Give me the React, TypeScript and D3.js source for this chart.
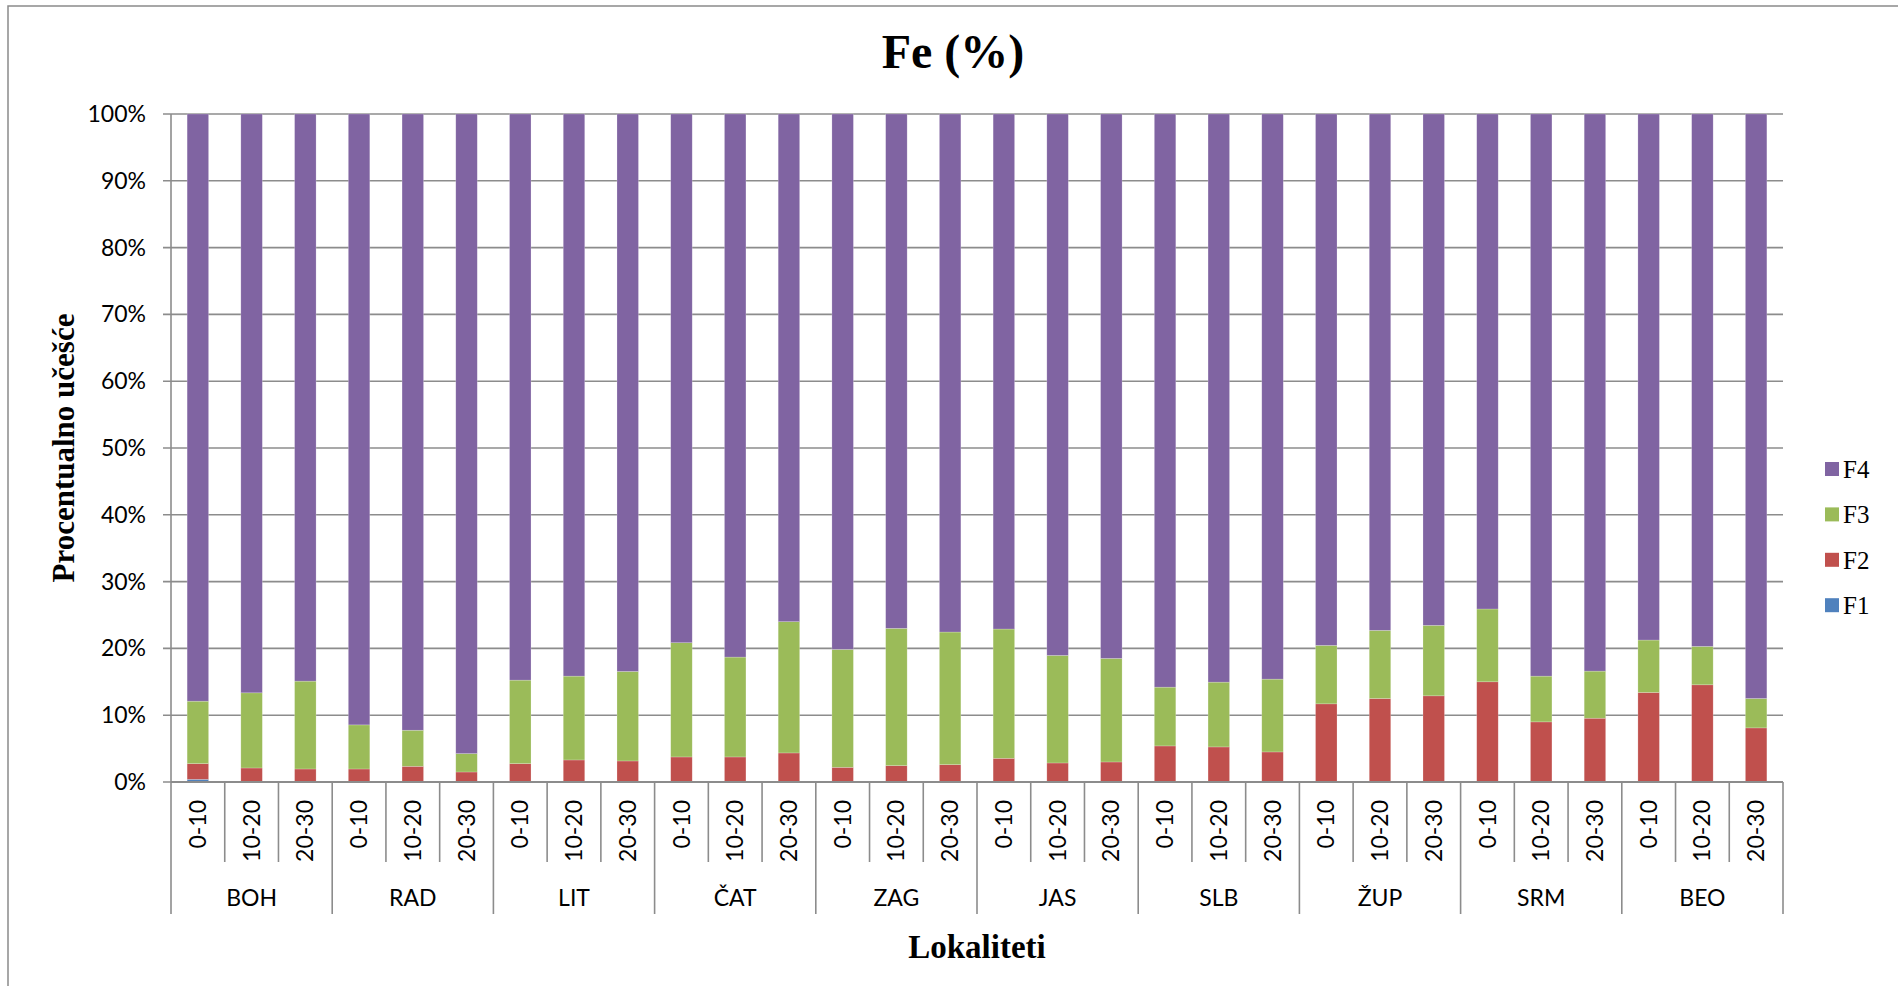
import React, { useEffect } from 'react';
import * as d3 from 'd3';

const locations = ['BOH', 'RAD', 'LIT', 'ČAT', 'ZAG', 'JAS', 'SLB', 'ŽUP', 'SRM', 'BEO'];
const depths = ['0-10', '10-20', '20-30'];
const seriesNames = ['F1', 'F2', 'F3', 'F4'];
const seriesColors = ['#4F81BD', '#C0504D', '#9BBB59', '#8064A2'];
const yTicks = [0, 10, 20, 30, 40, 50, 60, 70, 80, 90, 100];

const F1 = [0.4, 0, 0, 0, 0, 0, 0, 0, 0, 0, 0, 0, 0, 0, 0, 0, 0, 0, 0, 0, 0, 0, 0, 0, 0, 0, 0, 0, 0, 0];
const F2 = [2.35, 2.1, 1.95, 1.95, 2.35, 1.5, 2.75, 3.3, 3.15, 3.75, 3.75, 4.35, 2.2, 2.45, 2.6, 3.55, 2.85, 3.0, 5.4, 5.25, 4.5, 11.7, 12.5, 12.9, 15.0, 9.0, 9.55, 13.4, 14.55, 8.1];
const F3 = [9.35, 11.25, 13.15, 6.6, 5.4, 2.75, 12.5, 12.55, 13.4, 17.1, 14.95, 19.65, 17.65, 20.55, 19.85, 19.35, 16.1, 15.5, 8.8, 9.7, 10.9, 8.75, 10.2, 10.55, 10.9, 6.85, 7.05, 7.85, 5.75, 4.4];
const F4 = [87.9, 86.65, 84.9, 91.45, 92.25, 95.75, 84.75, 84.15, 83.45, 79.15, 81.3, 76.0, 80.15, 77.0, 77.55, 77.1, 81.05, 81.5, 85.8, 85.05, 84.6, 79.55, 77.3, 76.55, 74.1, 84.15, 83.4, 78.75, 79.7, 87.5];

const W = 1898;
const H = 986;
const left = 171;
const right = 1783;
const top = 114;
const bottom = 782;

export default function App() {
  useEffect(() => {
    document.body.style.margin = '0';
    document.body.style.overflow = 'hidden';
  }, []);

  const rows = locations.flatMap((loc, li) =>
    depths.map((dep, di) => {
      const i = li * 3 + di;
      return { key: `${loc}|${dep}`, loc, dep, F1: F1[i], F2: F2[i], F3: F3[i], F4: F4[i] };
    })
  );

  const x = d3.scaleBand<string>()
    .domain(rows.map(r => r.key))
    .range([left, right])
    .paddingInner(0.6)
    .paddingOuter(0.3);
  const step = x.step();
  const y = d3.scaleLinear().domain([0, 100]).range([bottom, top]);

  const stack = d3.stack<any>().keys(seriesNames);
  const layers = stack(rows);

  const grid = '#8c8c8c';
  const sans = 'Lato, "Open Sans", sans-serif';
  const serif = '"Liberation Serif", "Times New Roman", serif';

  const slotLeft = (i: number) => (x(rows[i].key) as number) - step * 0.3;

  return (
    <svg width={W} height={H} style={{ position: 'absolute', left: 0, top: 0, background: '#fff' }}>
      <rect x={8} y={6} width={W + 20} height={H + 20} fill="#fff" stroke="#8a8a8a" strokeWidth={1.5} />
      <text x={953} y={68} textAnchor="middle" fontFamily={serif} fontWeight="bold" fontSize={48} fill="#000">Fe (%)</text>

      {yTicks.map(t => (
        <g key={t}>
          <line x1={left - 8} x2={right} y1={y(t)} y2={y(t)} stroke={grid} strokeWidth={1.6} />
          <text x={146} y={y(t)} dy="0.35em" textAnchor="end" fontFamily={sans} fontSize={23} fill="#000">{t}%</text>
        </g>
      ))}
      <line x1={left} x2={left} y1={top} y2={bottom} stroke={grid} strokeWidth={1.6} />

      {layers.map((layer, si) => (
        <g key={seriesNames[si]}>
          {layer.map((d, i) => {
            const h = y(d[0]) - y(d[1]);
            if (h <= 0) return null;
            return (
              <rect key={i} x={x(rows[i].key)} y={y(d[1])} width={x.bandwidth()} height={h}
                fill={seriesColors[si]} stroke="#ffffff" strokeOpacity={0.35} strokeWidth={0.6} />
            );
          })}
        </g>
      ))}

      <line x1={left} x2={right} y1={bottom} y2={bottom} stroke={grid} strokeWidth={1.8} />

      {rows.map((r, i) => {
        const isGroupStart = i % 3 === 0;
        const sx = slotLeft(i);
        return (
          <line key={'t' + i} x1={sx} x2={sx} y1={bottom} y2={isGroupStart ? 914 : 862} stroke={grid} strokeWidth={1.6} />
        );
      })}
      <line x1={right} x2={right} y1={bottom} y2={914} stroke={grid} strokeWidth={1.6} />

      {rows.map((r, i) => {
        const cx = (x(r.key) as number) + x.bandwidth() / 2;
        return (
          <text key={'d' + i} transform={`translate(${cx},800) rotate(-90)`} textAnchor="end" dy="0.35em"
            fontFamily={sans} fontSize={23} fill="#000">{r.dep}</text>
        );
      })}

      {locations.map((loc, li) => {
        const x0 = slotLeft(li * 3);
        const x1 = li === locations.length - 1 ? right : slotLeft(li * 3 + 3);
        return (
          <text key={loc} x={(x0 + x1) / 2} y={898} dy="0.35em" textAnchor="middle" fontFamily={sans} fontSize={23} fill="#000">{loc}</text>
        );
      })}

      <text x={(left + right) / 2} y={958} textAnchor="middle" fontFamily={serif} fontWeight="bold" fontSize={33} fill="#000">Lokaliteti</text>
      <text transform={`translate(74,${(top + bottom) / 2}) rotate(-90)`} textAnchor="middle" fontFamily={serif} fontWeight="bold" fontSize={31} fill="#000">Procentualno učešće</text>

      {seriesNames.slice().reverse().map((name, k) => {
        const idx = seriesNames.length - 1 - k;
        const cy = 469 + k * 45.4;
        return (
          <g key={name}>
            <rect x={1825} y={cy - 7} width={14} height={14} fill={seriesColors[idx]} />
            <text x={1843} y={cy} dy="0.35em" fontFamily={serif} fontSize={25} fill="#000">{name}</text>
          </g>
        );
      })}
    </svg>
  );
}
